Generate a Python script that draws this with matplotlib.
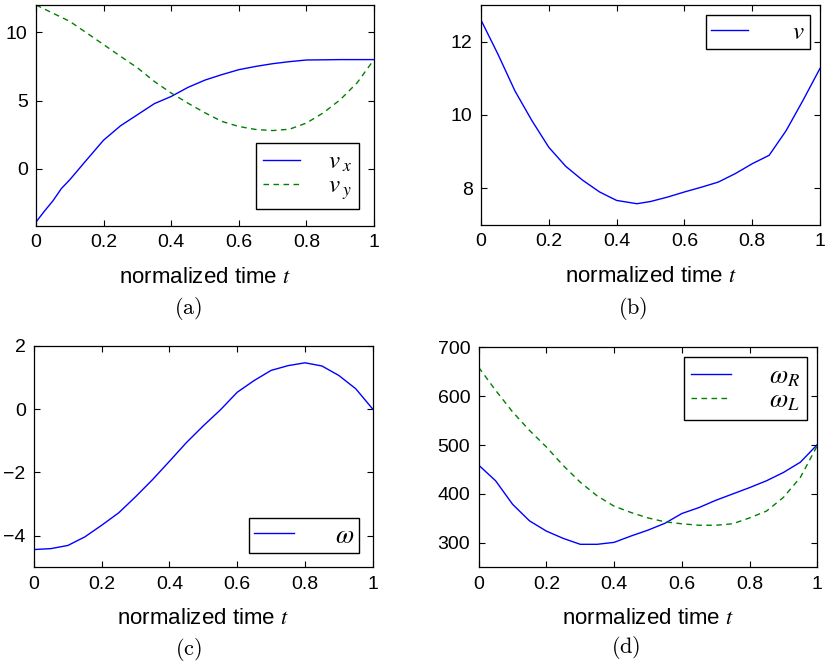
import matplotlib
matplotlib.use("Agg")
import matplotlib.pyplot as plt

plt.rcParams["font.family"] = ["Liberation Sans", "DejaVu Sans"]

# -- data --
t_a = [0.0, 0.025, 0.05, 0.075, 0.1, 0.15, 0.2, 0.25, 0.3, 0.35, 0.4, 0.45,
       0.5, 0.55, 0.6, 0.65, 0.7, 0.75, 0.8, 0.9, 1.0]
vx = [-3.9, -3.1, -2.35, -1.45, -0.8, 0.66, 2.1, 3.15, 3.96, 4.77, 5.3, 5.97,
      6.5, 6.9, 7.26, 7.5, 7.7, 7.85, 7.97, 8.0, 8.0]
t_vy = [0.0, 0.05, 0.1, 0.15, 0.2, 0.25, 0.3, 0.35, 0.4, 0.45, 0.5, 0.55, 0.6,
        0.65, 0.7, 0.75, 0.8, 0.85, 0.9, 0.95, 1.0]
vy = [12.0, 11.4, 10.8, 9.95, 9.1, 8.24, 7.4, 6.4, 5.55, 4.8, 4.1, 3.47, 3.1,
      2.88, 2.8, 2.9, 3.35, 4.1, 5.06, 6.3, 8.0]

t_b = [0.0, 0.05, 0.1, 0.15, 0.2, 0.25, 0.3, 0.35, 0.4, 0.46, 0.5, 0.55, 0.6,
       0.65, 0.7, 0.75, 0.8, 0.85, 0.9, 0.95, 1.0]
v = [12.59, 11.66, 10.66, 9.85, 9.12, 8.6, 8.22, 7.9, 7.67, 7.58, 7.64, 7.76,
     7.9, 8.03, 8.17, 8.4, 8.67, 8.9, 9.57, 10.4, 11.27]

t_c = [0.0, 0.05, 0.1, 0.15, 0.2, 0.25, 0.3, 0.35, 0.4, 0.45, 0.5, 0.55, 0.6,
       0.65, 0.7, 0.75, 0.8, 0.85, 0.9, 0.95, 1.0]
omega = [-4.44, -4.41, -4.31, -4.04, -3.67, -3.28, -2.77, -2.23, -1.65, -1.06,
         -0.53, -0.03, 0.53, 0.9, 1.22, 1.37, 1.46, 1.36, 1.06, 0.64, 0.0]

t_d = [0.0, 0.05, 0.1, 0.15, 0.2, 0.25, 0.3, 0.35, 0.4, 0.45, 0.5, 0.55, 0.6,
       0.65, 0.7, 0.75, 0.8, 0.85, 0.9, 0.95, 1.0]
omega_r = [459, 427, 379, 345, 324, 309, 297, 297, 301, 314, 326, 340, 360,
           372, 387, 400, 413, 427, 444, 465, 501]
omega_l = [659, 612, 568, 530, 496, 458, 424, 396, 375, 362, 351, 343, 339,
           336, 336, 339, 351, 365, 393, 434, 499]

xticks = [0, 0.2, 0.4, 0.6, 0.8, 1]
xticklabels = ["0", "0.2", "0.4", "0.6", "0.8", "1"]

BLUE = "#0000ff"
GREEN = "#008000"
DASH = (0, (4, 3.2))
LW = 1.0

fig = plt.figure(figsize=(8.26, 6.67), dpi=100)
ax_a = fig.add_axes([0.0436, 0.661, 0.4092, 0.3315])
ax_b = fig.add_axes([0.5823, 0.6627, 0.4104, 0.3298])
ax_c = fig.add_axes([0.0412, 0.1495, 0.4100, 0.3322])
ax_d = fig.add_axes([0.5795, 0.1495, 0.4100, 0.3298])


def style_axes(ax, ylim, yticks):
    ax.set_xlim(0, 1)
    ax.set_ylim(*ylim)
    ax.set_xticks(xticks)
    ax.set_xticklabels(xticklabels)
    ax.set_yticks(yticks)
    ax.tick_params(direction="in", top=True, right=True, length=4,
                   width=0.8, labelsize=14, pad=6)
    for s in ax.spines.values():
        s.set_linewidth(0.9)
    lab = ax.set_xlabel("normalized time $t$", fontsize=16, labelpad=11)
    lab.set_math_fontfamily("stix")


def make_legend(ax, loc, fontsize=18, textpad=1.1, bpad=0.27, **kw):
    leg = ax.legend(loc=loc, fancybox=False, edgecolor="black", framealpha=1,
                    fontsize=fontsize, handlelength=1.5, handletextpad=textpad,
                    borderpad=bpad, labelspacing=0.0, borderaxespad=0, **kw)
    leg.get_frame().set_linewidth(1.0)
    for txt in leg.get_texts():
        txt.set_math_fontfamily("stix")
    return leg


# (a)
ax_a.plot(t_a, vx, color=BLUE, lw=LW, label="$v_{\\;x}$")
ax_a.plot(t_vy, vy, color=GREEN, lw=LW, ls=DASH, label="$v_{\\;y}$")
style_axes(ax_a, (-4.2, 12), [0, 5, 10])
make_legend(ax_a, "lower right", bbox_to_anchor=(0.956, 0.077))

# (b)
ax_b.plot(t_b, v, color=BLUE, lw=LW, label="$v$")
style_axes(ax_b, (7, 13), [8, 10, 12])
make_legend(ax_b, "upper right", textpad=1.75, bpad=0.2,
            bbox_to_anchor=(0.97, 0.955))

# (c)
ax_c.plot(t_c, omega, color=BLUE, lw=LW, label="$\\omega$")
style_axes(ax_c, (-5, 2), [-4, -2, 0, 2])
make_legend(ax_c, "lower right", fontsize=19, textpad=1.55, bpad=0.2,
            bbox_to_anchor=(0.96, 0.065))

# (d)
ax_d.plot(t_d, omega_r, color=BLUE, lw=LW, label="$\\omega_{R}$")
ax_d.plot(t_d, omega_l, color=GREEN, lw=LW, ls=DASH, label="$\\omega_{L}$")
style_axes(ax_d, (250, 700), [300, 400, 500, 600, 700])
make_legend(ax_d, "upper right", fontsize=19, textpad=1.45,
            bbox_to_anchor=(0.97, 0.956))

# sub captions
for x, y, s in [(0.228, 0.538, "(a)"), (0.766, 0.538, "(b)"),
                (0.228, 0.026, "(c)"), (0.757, 0.029, "(d)")]:
    fig.text(x, y, "$\\mathrm{" + s + "}$", ha="center", va="center",
             fontsize=16, math_fontfamily="cm")

fig.savefig("out.png", dpi=100)
